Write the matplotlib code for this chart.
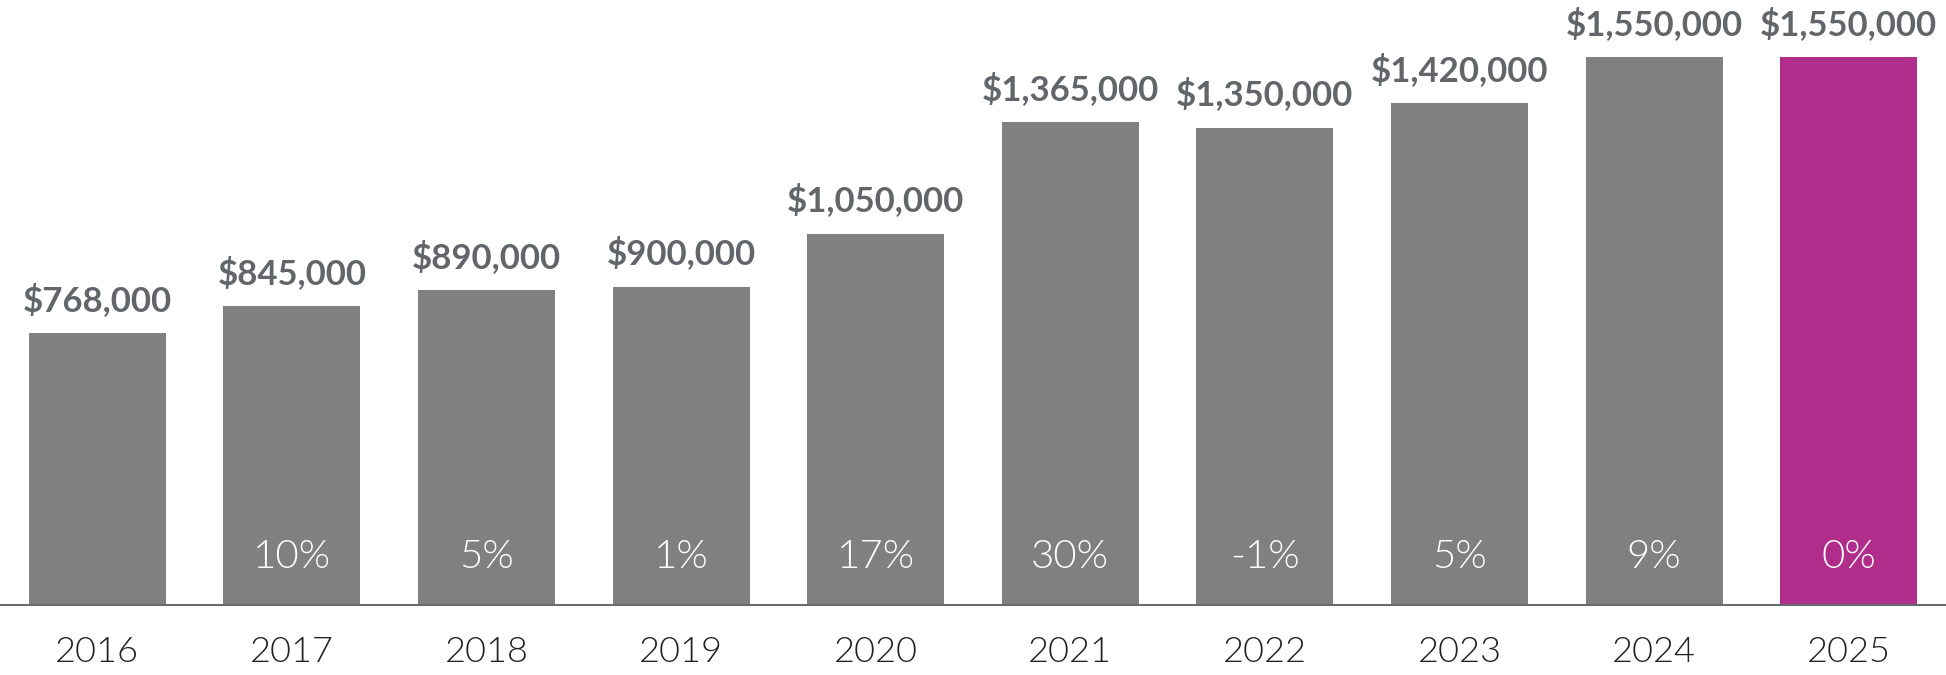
import matplotlib.pyplot as plt

years = ["2016", "2017", "2018", "2019", "2020", "2021", "2022", "2023", "2024", "2025"]
prices = [768000, 845000, 890000, 900000, 1050000, 1365000, 1350000, 1420000, 1550000, 1550000]
growth = [None, 10, 5, 1, 17, 30, -1, 5, 9, 0]

grey = "#808080"
magenta = "#b12d8c"
colors = [grey] * (len(years) - 1) + [magenta]

fig = plt.figure(figsize=(19.46, 6.75), dpi=100)
ax = fig.add_axes([0, (675 - 605) / 675, 1, 605 / 675])

x = list(range(len(years)))
ax.bar(x, prices, width=0.705, color=colors, zorder=2)

ax.set_xlim(-0.5, 9.5)
ax.set_ylim(0, 1711000)

for i, v in enumerate(prices):
    ax.annotate(f"${v:,}", xy=(i, v), xytext=(0, 16), textcoords="offset points",
                ha="center", va="baseline", fontsize=25, fontweight="bold",
                family="Lato", color="#62666b")
    if growth[i] is not None:
        ax.annotate(f"{growth[i]}%", xy=(i, 0), xytext=(0, 26.5), textcoords="offset points",
                    ha="center", va="baseline", fontsize=29, fontweight=300,
                    family="Lato", color="white")
    ax.annotate(years[i], xy=(i, 0), xytext=(0, -41), textcoords="offset points",
                ha="center", va="baseline", fontsize=26, fontweight=300,
                family="Lato", color="#222222", annotation_clip=False)

for side in ["top", "right", "left"]:
    ax.spines[side].set_visible(False)
ax.spines["bottom"].set_color("#666b70")
ax.spines["bottom"].set_linewidth(1.5)
ax.set_xticks([])
ax.set_yticks([])

fig.savefig("out.png", dpi=100)
